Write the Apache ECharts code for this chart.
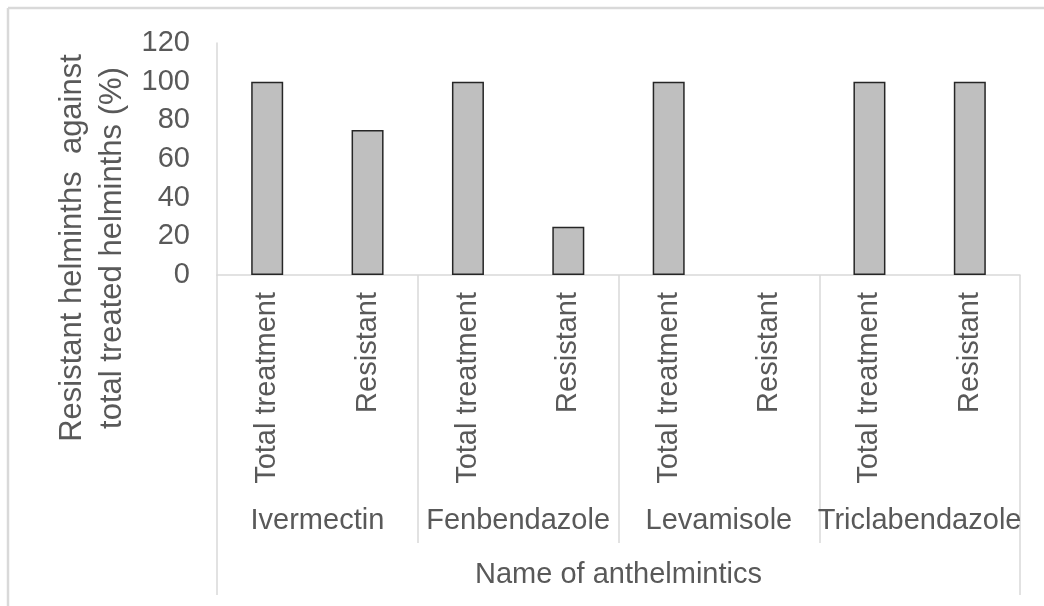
<!DOCTYPE html>
<html>
<head>
<meta charset="utf-8">
<script src="https://cdn.jsdelivr.net/npm/echarts@6/dist/echarts.min.js"></script>
<style>
  html, body { margin: 0; padding: 0; background: #ffffff; }
  #chart { width: 1044px; height: 606px; }
</style>
</head>
<body>
<div id="chart"></div>
<script>
// Drug groups and the two bars shown under each one
const drugs = ['Ivermectin', 'Fenbendazole', 'Levamisole', 'Triclabendazole'];
const barKinds = ['Total treatment', 'Resistant'];
// Percent values, in order: total treatment, resistant, for each drug
const totalTreatment = [100, 100, 100, 100];
const resistant = [75, 25, 0, 100];
const yTicks = { min: 0, max: 120, interval: 20 };
const xTitle = 'Name of anthelmintics';
const yTitle = 'Resistant helminths  against\ntotal treated helminths (%)';

// Flatten into one category per bar
const barLabels = [];
const barValues = [];
drugs.forEach((d, i) => {
  barLabels.push(barKinds[0], barKinds[1]);
  barValues.push(totalTreatment[i], resistant[i]);
});

const FONT = '"Liberation Sans", Arial, sans-serif';
const TEXT = '#595959';
const RULE = '#d9d9d9';
const FS = 29;

// a zero-height bar leaves no outline on the baseline
const barData = barValues.map(v => v === 0
  ? { value: v, itemStyle: { borderWidth: 0 } }
  : v);

const chart = echarts.init(document.getElementById('chart'), null, { renderer: 'canvas' });

chart.setOption({
  backgroundColor: '#ffffff',
  animation: false,
  grid: { left: 217, right: 24, top: 43, bottom: 331, containLabel: false },
  xAxis: [
    {
      type: 'category',
      position: 'bottom',
      data: barLabels,
      axisLine: { show: true, lineStyle: { color: RULE, width: 1.5 } },
      axisTick: { show: false },
      axisLabel: {
        interval: 0, rotate: 90, margin: 17,
        color: TEXT, fontSize: FS, fontFamily: FONT
      },
      splitLine: { show: false }
    },
    {
      type: 'category',
      position: 'bottom',
      data: drugs,
      axisLine: { show: false },
      axisTick: {
        show: true, interval: 0, alignWithLabel: false, inside: false,
        length: 268, lineStyle: { color: RULE, width: 1.5 }
      },
      axisLabel: {
        interval: 0, margin: 231,
        color: TEXT, fontSize: FS, fontFamily: FONT
      },
      splitLine: { show: false }
    },
    {
      type: 'category',
      position: 'bottom',
      data: [xTitle],
      axisLine: { show: false },
      axisTick: {
        show: true, interval: 0, alignWithLabel: false, inside: false,
        length: 320, lineStyle: { color: RULE, width: 1.5 }
      },
      axisLabel: {
        interval: 0, margin: 285,
        color: TEXT, fontSize: FS, fontFamily: FONT
      },
      splitLine: { show: false }
    }
  ],
  yAxis: {
    type: 'value',
    min: yTicks.min, max: yTicks.max, interval: yTicks.interval,
    axisLine: { show: true, lineStyle: { color: RULE, width: 1.5 } },
    axisTick: { show: false },
    splitLine: { show: false },
    axisLabel: { margin: 27, color: TEXT, fontSize: FS, fontFamily: FONT }
  },
  series: [
    {
      type: 'bar',
      xAxisIndex: 0,
      data: barData,
      barWidth: 32,
      itemStyle: { color: '#bfbfbf', borderColor: '#262626', borderWidth: 1.5 }
    }
  ],
  graphic: [
    // chart frame edges
    { type: 'line', shape: { x1: 8, y1: 8, x2: 1044, y2: 8 }, style: { stroke: RULE, lineWidth: 2.5 } },
    { type: 'line', shape: { x1: 8, y1: 8, x2: 8, y2: 606 }, style: { stroke: RULE, lineWidth: 2.5 } },
    // vertical axis title
    {
      type: 'text',
      x: 92, y: 248,
      rotation: Math.PI / 2,
      style: {
        text: yTitle,
        fill: TEXT,
        font: '31px ' + FONT,
        lineHeight: 40,
        align: 'center',
        verticalAlign: 'middle'
      }
    }
  ]
});
</script>
</body>
</html>
